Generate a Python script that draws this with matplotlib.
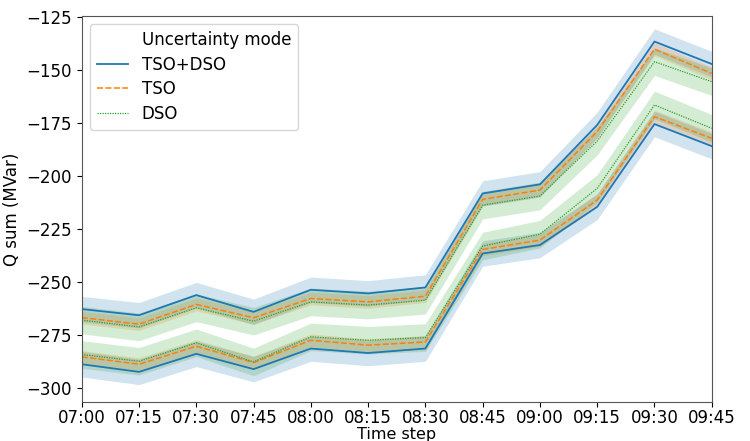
import matplotlib
matplotlib.use("Agg")
import matplotlib.pyplot as plt
from matplotlib.lines import Line2D
import numpy as np

times = ["07:00", "07:15", "07:30", "07:45", "08:00", "08:15", "08:30",
         "08:45", "09:00", "09:15", "09:30", "09:45"]
modes = ["TSO+DSO", "TSO", "DSO"]

# Upper and lower envelopes for each uncertainty mode (MVar)
upper_tso_dso = [-262.7, -265.6, -256.1, -264.0, -253.6, -255.3, -252.5, -208.2, -203.9, -175.9, -136.6, -147.2]
upper_tso     = [-266.7, -269.8, -260.5, -266.8, -257.7, -259.3, -256.6, -211.0, -206.6, -179.0, -140.2, -151.6]
upper_dso     = [-267.9, -271.1, -262.1, -268.4, -259.3, -260.8, -258.5, -213.7, -209.4, -183.5, -146.1, -155.5]
lower_tso_dso = [-288.7, -292.3, -283.8, -291.0, -281.3, -283.4, -281.3, -236.5, -232.5, -214.5, -175.5, -185.9]
lower_tso     = [-285.2, -288.7, -280.2, -287.9, -277.4, -279.7, -278.2, -234.6, -230.2, -211.3, -172.0, -182.2]
lower_dso     = [-284.1, -287.3, -278.6, -287.6, -275.8, -277.4, -276.1, -233.0, -227.4, -205.8, -166.5, -177.5]
# half width of the confidence band for each mode (MVar)
band_half = [6.0, 3.0, 6.5]

colors = ["#1f77b4", "#ff7f0e", "#2ca02c"]
dashes = [None, (4, 1.5), (1, 1)]
widths = [1.3, 1.1, 0.9]

upper = [upper_tso_dso, upper_tso, upper_dso]
lower = [lower_tso_dso, lower_tso, lower_dso]

fig = plt.figure(figsize=(7.5, 4.41), dpi=100)
ax = fig.add_axes([0.109, 0.0884, 0.840, 0.8756])
x = np.arange(len(times))

for i, m in enumerate(modes):
    for series in (upper[i], lower[i]):
        y = np.array(series)
        ax.fill_between(x, y - band_half[i], y + band_half[i], color=colors[i], alpha=0.2, linewidth=0)
for i, m in enumerate(modes):
    for series in (upper[i], lower[i]):
        ln, = ax.plot(x, series, color=colors[i], lw=widths[i])
        if dashes[i] is not None:
            ln.set_dashes(dashes[i])

ax.set_xlim(0, len(times) - 1)
ax.set_ylim(-306.5, -124.5)
ax.set_xticks(x)
ax.set_xticklabels(times)
ax.set_yticks([-300, -275, -250, -225, -200, -175, -150, -125])
ax.tick_params(labelsize=12)
ax.tick_params(axis="x", pad=1.5)
ax.set_xlabel("Time step", fontsize=11.5, labelpad=0)
ax.set_ylabel("Q sum (MVar)", fontsize=12)
for s in ax.spines.values():
    s.set_color("#555555")

handles = [Line2D([], [], color="none")]
labels = ["Uncertainty mode"]
for i, m in enumerate(modes):
    h = Line2D([], [], color=colors[i], lw=widths[i])
    if dashes[i] is not None:
        h.set_dashes(dashes[i])
    handles.append(h)
    labels.append(m)
ax.legend(handles, labels, loc="upper left", fontsize=12, handlelength=1.9,
          labelspacing=0.4, framealpha=0.8, borderaxespad=0.5)

fig.savefig("out.png", dpi=100)
